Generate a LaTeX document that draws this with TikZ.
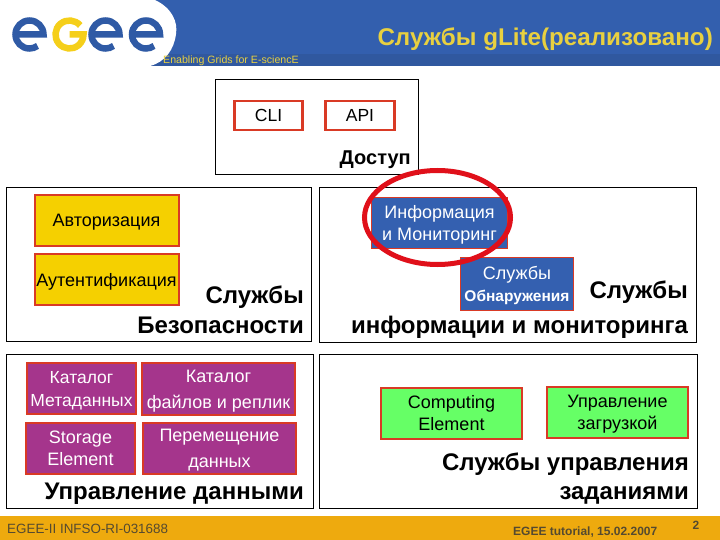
\documentclass[tikz,border=0pt]{standalone}
\usepackage{fontspec}
\usetikzlibrary{shapes.geometric}
\setmainfont{Liberation Sans}
\definecolor{hblue}{HTML}{335FAE}
\definecolor{hband}{HTML}{30589F}
\definecolor{hyel}{HTML}{E8D040}
\definecolor{lblue}{HTML}{2F5AA5}
\definecolor{lyel}{HTML}{F5CF1A}
\definecolor{rbord}{HTML}{D93A25}
\definecolor{boxyel}{HTML}{F5D000}
\definecolor{boxblue}{HTML}{3460B0}
\definecolor{boxpur}{HTML}{A5358C}
\definecolor{boxgrn}{HTML}{66FF66}
\definecolor{foot}{HTML}{EEAA0E}
\definecolor{foottxt}{HTML}{554A30}
\definecolor{ringred}{HTML}{E0101A}
\tikzset{
 x=1pt,y=-1pt,
 panel/.style={draw=black,line width=.9pt,fill=white},
 svc/.style={draw=rbord,line width=2pt,align=center,inner sep=0pt,font=\fontsize{18}{22}\selectfont},
 ttl/.style={font=\fontsize{24}{#1}\bfseries\selectfont,align=right,inner sep=0pt},
 logoe/.style={line width=6.5pt},
}
\begin{document}
\begin{tikzpicture}
\useasboundingbox (0,0) rectangle (720,540);
% header
\fill[hblue] (150,0) rectangle (720,54);
\fill[hband] (150,54) rectangle (720,66);
\fill[white] (0,0) -- (155,0) .. controls (172,8) and (178,22) .. (176,34) .. controls (174,50) and (165,62) .. (150,66) -- (0,66) -- cycle;
% logo
\foreach \cx in {29.5,105.5,146}{
 \draw[logoe,lblue] ({\cx-13},34.5) -- ({\cx+14},34.5) arc[start angle=0,end angle=305,radius=14pt];
}
\draw[logoe,lyel] (69.5,34.5) ++(40:14pt) arc[start angle=40,end angle=360,radius=14pt] -- (69.5,34.5);
\node (title) [anchor=east,inner sep=0pt,text=hyel,font=\fontsize{24.2}{26}\bfseries\selectfont] at (713,39) {Службы gLite(реализовано)};
\node (tag) [anchor=west,inner sep=0pt,text=hyel,font=\fontsize{10.6}{12}\selectfont] at (163,61) {Enabling Grids for E-sciencE};
% access panel
\draw[panel] (215,79) rectangle (418.5,174);
\node (cli) [svc,line width=2.6pt,fill=white,minimum width=68pt,minimum height=29pt,font=\fontsize{17.5}{20}\selectfont] at (268.5,115.5) {CLI};
\node (api) [svc,line width=2.6pt,fill=white,minimum width=69pt,minimum height=29pt,font=\fontsize{17.5}{20}\selectfont] at (360,115.5) {API};
\node (acc) [anchor=east,inner sep=0pt,font=\fontsize{20}{24}\bfseries\selectfont] at (411,160) {Доступ};
% security
\draw[panel] (6,187) rectangle (311,341);
\node (auth) [svc,fill=boxyel,minimum width=144pt,minimum height=51pt,text depth=-2pt] at (106.5,220.5) {Авторизация};
\node (authn) [svc,fill=boxyel,minimum width=144pt,minimum height=51pt,text depth=0pt] at (106.5,279.5) {Аутентификация};
\node (sec) [ttl=29.5pt,anchor=north east] at (304,286) {Службы\\Безопасности};
% info
\draw[panel] (319,187) rectangle (696,342);
\node (info) [svc,fill=boxblue,text=white,line width=1.5pt,minimum width=136pt,minimum height=51pt,text depth=-2.5pt] at (439.5,223) {Информация\\и Мониторинг};
\node (disc) [svc,fill=boxblue,text=white,line width=1.5pt,minimum width=113pt,minimum height=53pt,text depth=-2pt] at (517,284) {Службы\\{\fontsize{15.5}{18}\bfseries\selectfont Обнаружения}};
\node (inf) [ttl=35pt,anchor=north east] at (688,281) {Службы\\информации и мониторинга};
\node (ring) [draw=ringred,line width=5pt,ellipse,minimum width=146pt,minimum height=94pt,inner sep=0pt] at (437.5,217.5) {};
% data
\draw[panel] (6,354) rectangle (313,508);
\node (mcat) [svc,fill=boxpur,text=white,minimum width=109pt,minimum height=51pt,font=\fontsize{17.5}{23}\selectfont,text depth=-3pt] at (81.5,388.5) {Каталог\\Метаданных};
\node (fcat) [svc,fill=boxpur,text=white,minimum width=153pt,minimum height=52pt,font=\fontsize{18}{26}\selectfont,text depth=0pt] at (218.5,389) {Каталог\\файлов и реплик};
\node (se) [svc,fill=boxpur,text=white,minimum width=109pt,minimum height=51pt,text depth=-2pt] at (80.5,448.5) {Storage\\Element};
\node (fts) [svc,fill=boxpur,text=white,minimum width=153pt,minimum height=51pt,font=\fontsize{18}{26}\selectfont,text depth=-3pt] at (219.5,448.5) {Перемещение\\данных};
\node (dm) [ttl=29pt,anchor=east] at (304,494) {Управление данными};
% jobs
\draw[panel] (319,354) rectangle (697,508);
\node (ce) [svc,fill=boxgrn,minimum width=141pt,minimum height=51pt,text depth=-2pt] at (451.5,413) {Computing\\Element};
\node (wms) [svc,fill=boxgrn,minimum width=141pt,minimum height=51pt,text depth=-3pt] at (617.5,412.5) {Управление\\загрузкой};
\node (job) [ttl=28.5pt,anchor=north east] at (689,453) {Службы управления\\заданиями};
% footer
\fill[foot] (0,516) rectangle (720,540);
\node (fl) [anchor=west,inner sep=0pt,text=foottxt,font=\fontsize{13.4}{15}\selectfont] at (7,529) {EGEE-II INFSO-RI-031688};
\node (fm) [anchor=west,inner sep=0pt,text=foottxt,font=\fontsize{12}{15}\bfseries\selectfont] at (513,532) {EGEE tutorial, 15.02.2007};
\node (fn) [anchor=center,inner sep=0pt,text=foottxt,font=\fontsize{12}{15}\bfseries\selectfont] at (696,525) {2};
\end{tikzpicture}
\end{document}
